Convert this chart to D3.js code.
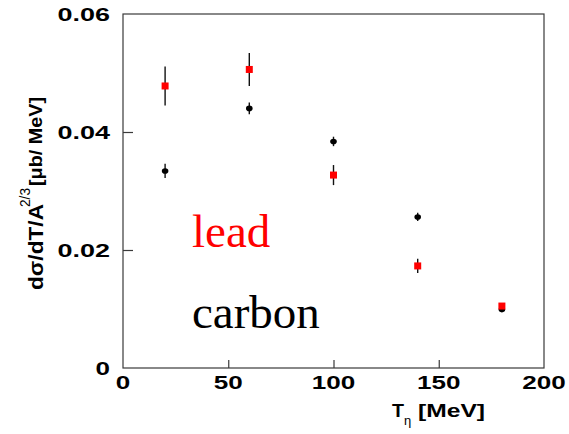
<!DOCTYPE html>
<html>
<head>
<meta charset="utf-8">
<script src="https://cdn.jsdelivr.net/npm/d3@7/dist/d3.min.js"></script>
<style>
  html, body { margin: 0; padding: 0; background: #fff; }
  svg { display: block; }
</style>
</head>
<body>
<svg id="chart" width="569" height="434"></svg>
<script>
// Eta kinetic energy bins (MeV)
const energies = [20, 60, 100, 140, 180];
// Cross section per A^(2/3) [μb/MeV]
const leadValues   = [0.0478, 0.0506, 0.0327, 0.0173, 0.0105];
const leadErrors   = [0.0033, 0.0028, 0.0017, 0.0012, 0.0004];
const carbonValues = [0.0334, 0.0440, 0.0384, 0.0256, 0.0099];
const carbonErrors = [0.0012, 0.0010, 0.0008, 0.0007, 0.0004];
// Axis ticks
const xTicks = [0, 50, 100, 150, 200];
const yTicks = [0, 0.02, 0.04, 0.06];
const xTickLabels = ["0", "50", "100", "150", "200"];
const yTickLabels = ["0", "0.02", "0.04", "0.06"];

const svg = d3.select("#chart");
const m = { left: 123, right: 544, top: 14, bottom: 368 };

const x = d3.scaleLinear().domain([0, 200]).range([m.left, m.right]);
const y = d3.scaleLinear().domain([0, 0.06]).range([m.bottom, m.top]);

const sans = "'Liberation Sans', Arial, Helvetica, sans-serif";
const serif = "'Liberation Serif', 'Times New Roman', serif";

// Wide bold numerals: stretch each label to a width proportional to its characters
function labelWidth(s) {
  let w = 0;
  for (const c of s) w += (c === ".") ? 9 : 14.5;
  return w;
}

// Frame
svg.append("rect")
  .attr("x", m.left).attr("y", m.top)
  .attr("width", m.right - m.left).attr("height", m.bottom - m.top)
  .attr("fill", "none").attr("stroke", "#3a3a3a").attr("stroke-width", 1.2);

// Inward ticks on the left axis
const yAxis = d3.axisRight(y).tickValues(yTicks.slice(1, -1)).tickSize(10).tickFormat("");
svg.append("g").attr("transform", `translate(${m.left},0)`).call(yAxis)
  .call(g => g.select(".domain").remove())
  .call(g => g.selectAll("line").attr("stroke", "#3a3a3a").attr("stroke-width", 1.2));

// Inward ticks on the bottom axis
const xAxis = d3.axisTop(x).tickValues(xTicks.slice(1, -1)).tickSize(8).tickFormat("");
svg.append("g").attr("transform", `translate(0,${m.bottom})`).call(xAxis)
  .call(g => g.select(".domain").remove())
  .call(g => g.selectAll("line").attr("stroke", "#3a3a3a").attr("stroke-width", 1.2));

// Tick labels
svg.append("g").selectAll("text").data(yTicks).join("text")
  .attr("x", 110)
  .attr("y", d => y(d) + 7)
  .attr("text-anchor", "end")
  .attr("font-family", sans).attr("font-weight", "bold").attr("font-size", 19)
  .attr("textLength", (d, i) => labelWidth(yTickLabels[i]))
  .attr("lengthAdjust", "spacingAndGlyphs")
  .text((d, i) => yTickLabels[i]);

svg.append("g").selectAll("text").data(xTicks).join("text")
  .attr("x", d => x(d))
  .attr("y", 389)
  .attr("text-anchor", "middle")
  .attr("font-family", sans).attr("font-weight", "bold").attr("font-size", 19)
  .attr("textLength", (d, i) => labelWidth(xTickLabels[i]))
  .attr("lengthAdjust", "spacingAndGlyphs")
  .text((d, i) => xTickLabels[i]);

// X axis title: T_η [MeV]
const xt = svg.append("g").attr("font-family", sans);
xt.append("text").attr("x", 392).attr("y", 417)
  .attr("font-weight", "bold").attr("font-size", 19)
  .attr("textLength", 12).attr("lengthAdjust", "spacingAndGlyphs").text("T");
xt.append("text").attr("x", 404).attr("y", 425)
  .attr("font-size", 13).text("η");
xt.append("text").attr("x", 418).attr("y", 417)
  .attr("font-weight", "bold").attr("font-size", 19)
  .attr("textLength", 67).attr("lengthAdjust", "spacingAndGlyphs").text("[MeV]");

// Y axis title: dσ/dT/A^(2/3) [μb/ MeV]
const yt = svg.append("g").attr("font-family", sans).attr("font-weight", "bold");
yt.append("text").attr("transform", "translate(43,290) rotate(-90)")
  .attr("font-size", 21)
  .attr("textLength", 86).attr("lengthAdjust", "spacingAndGlyphs").text("dσ/dT/A");
yt.append("text").attr("transform", "translate(30,207) rotate(-90)")
  .attr("font-size", 14).attr("font-weight", "normal")
  .attr("textLength", 19).attr("lengthAdjust", "spacingAndGlyphs").text("2/3");
yt.append("text").attr("transform", "translate(42,186) rotate(-90)")
  .attr("font-size", 18)
  .attr("textLength", 89).attr("lengthAdjust", "spacingAndGlyphs").text("[μb/ MeV]");

// Data series
function drawSeries(vals, errs, color, shape) {
  const g = svg.append("g");
  g.selectAll("line.err").data(energies).join("line")
    .attr("class", "err")
    .attr("x1", d => x(d)).attr("x2", d => x(d))
    .attr("y1", (d, i) => y(vals[i] - errs[i]))
    .attr("y2", (d, i) => y(vals[i] + errs[i]))
    .attr("stroke", "#111").attr("stroke-width", 1.4);
  if (shape === "square") {
    g.selectAll("rect").data(energies).join("rect")
      .attr("x", d => x(d) - 3.5)
      .attr("y", (d, i) => y(vals[i]) - 3.5)
      .attr("width", 7).attr("height", 7)
      .attr("fill", color);
  } else {
    g.selectAll("ellipse").data(energies).join("ellipse")
      .attr("cx", d => x(d))
      .attr("cy", (d, i) => y(vals[i]))
      .attr("rx", 3.3).attr("ry", 2.8)
      .attr("fill", color);
  }
}
drawSeries(carbonValues, carbonErrors, "#000", "dot");
drawSeries(leadValues, leadErrors, "#ff0000", "square");

// Series labels
svg.append("text").attr("x", 192).attr("y", 247)
  .attr("font-family", serif).attr("font-size", 47).attr("fill", "#ff0000").text("lead");
svg.append("text").attr("x", 192).attr("y", 328)
  .attr("font-family", serif).attr("font-size", 47).attr("fill", "#000").text("carbon");
</script>
</body>
</html>
